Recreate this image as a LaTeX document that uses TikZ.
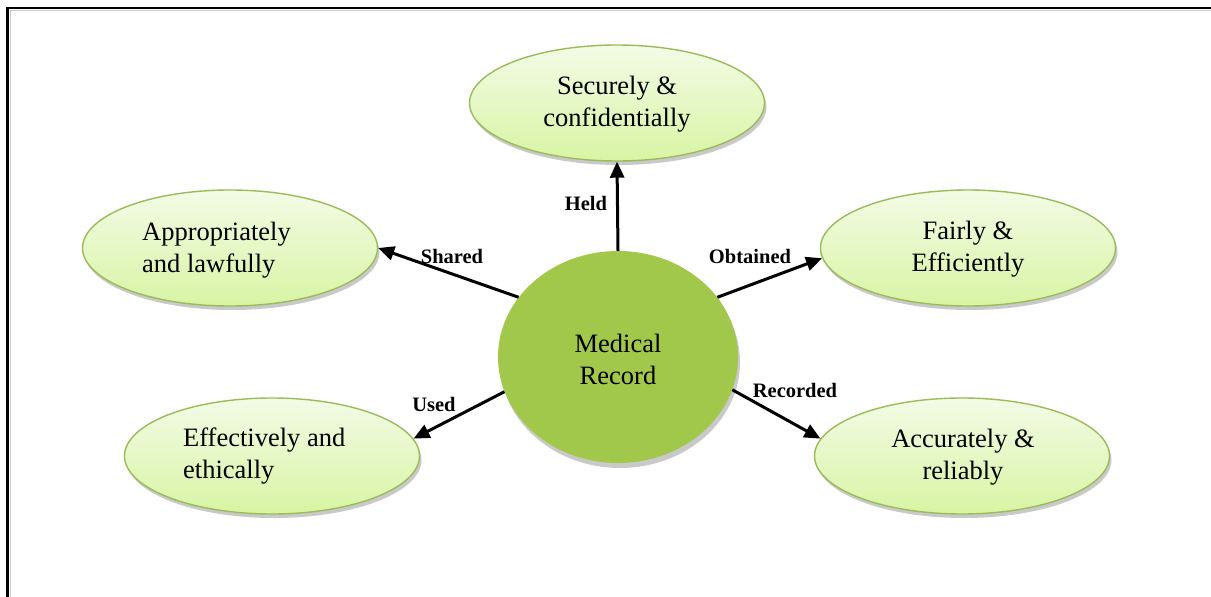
\documentclass[tikz,border=0pt]{standalone}
\usepackage{fontspec}
\setmainfont{Liberation Serif}
\usetikzlibrary{shapes.geometric,arrows.meta,shadows}

\definecolor{ovalTop}{HTML}{F3FBE6}
\definecolor{ovalBottom}{HTML}{D8F4A4}
\definecolor{ovalEdge}{HTML}{9BBB59}
\definecolor{hubFill}{HTML}{A2C84B}

\tikzset{
  oval/.style={ellipse, minimum width=295pt, minimum height=116pt, inner sep=0pt,
    draw=ovalEdge, line width=1.4pt, top color=ovalTop, bottom color=ovalBottom,
    drop shadow={shadow xshift=2pt, shadow yshift=-4pt, fill=black!30, opacity=0.7}},
  hub/.style={ellipse, minimum width=240pt, minimum height=212pt, inner sep=0pt,
    fill=hubFill, draw=none,
    drop shadow={shadow xshift=2pt, shadow yshift=-5pt, fill=black!30, opacity=0.7}},
  bigtext/.style={inner sep=0pt, font=\fontsize{26.5}{32}\selectfont},
  tag/.style={inner sep=0pt, font=\fontsize{20.5}{24}\selectfont\bfseries},
  link/.style={line width=3pt, -{Triangle[length=16pt,width=14pt]}},
}

\begin{document}
\begin{tikzpicture}[x=1pt, y=-1pt]
  \useasboundingbox (0,0) rectangle (1211,597);

  % page frame (top and left rules)
  \draw[black!20, line width=1pt] (10,597) -- (10,10.5) -- (1211,10.5);
  \draw[black, line width=2.2pt] (7.5,597) -- (7.5,8) -- (1211,8);

  % central record and the five outcome ovals
  \node[hub]  (med) at (618,357) {};
  \node[oval] (sec) at (617,103) {};
  \node[oval] (apl) at (230,248) {};
  \node[oval] (fair) at (968,248) {};
  \node[oval] (eff) at (272,456) {};
  \node[oval] (acc) at (962,456) {};

  % oval texts
  \node[bigtext, align=center] (tmed) at (618,359) {Medical\\Record};
  \node[bigtext, align=center] (tsec) at (617,104) {Securely \&\\confidentially};
  \node[bigtext, align=left, anchor=west] (tapl) at (142,250) {Appropriately\\and lawfully};
  \node[bigtext, align=center] (tfair) at (968,249) {Fairly \&\\Efficiently};
  \node[bigtext, align=left, anchor=west] (teff) at (183,456) {Effectively and\\ethically};
  \node[bigtext, align=center] (tacc) at (963,457) {Accurately \&\\reliably};

  % connectors
  \draw[link] (med.north) -- (sec.south);
  \draw[link] (med.149) -- (apl.east);
  \draw[link] (med.31.5) -- (fair.184);
  \draw[link] (med.197) -- (eff.7);
  \draw[link] (med.-16.6) -- (acc.173);

  % connector labels
  \node[tag] (lheld) at (586,203) {Held};
  \node[tag] (lshared) at (452,256) {Shared};
  \node[tag] (lobt) at (750,256) {Obtained};
  \node[tag] (lused) at (434,404) {Used};
  \node[tag] (lrec) at (795,390) {Recorded};
\end{tikzpicture}
\end{document}
